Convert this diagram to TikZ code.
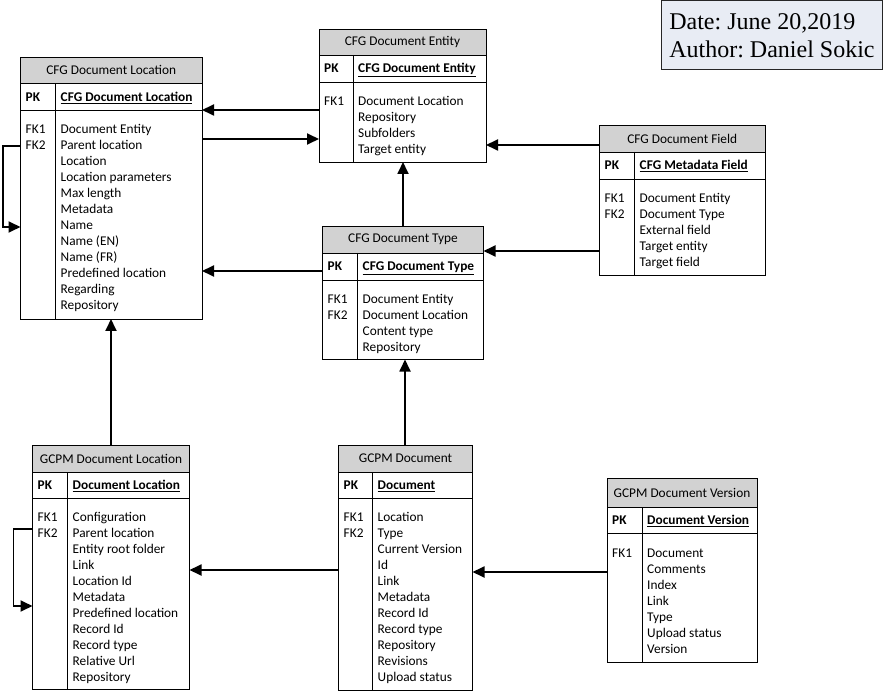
\documentclass[tikz,border=0pt]{standalone}
\usepackage{fontspec}
\setmainfont{Carlito}
\newfontfamily\stampfont{Liberation Serif}
\usetikzlibrary{positioning,arrows.meta}
\definecolor{titlegray}{HTML}{D2D2D2}
\definecolor{stampfill}{HTML}{E8ECF4}

\begin{document}
\begin{tikzpicture}[
    x=1pt, y=-1pt,
    every node/.style={font=\fontsize{13.33}{16}\selectfont},
    etitle/.style={draw, line width=0.9pt, fill=titlegray, anchor=north west,
                   minimum width=#1, minimum height=27pt, inner sep=0pt, outer sep=0pt},
    erow/.style={draw, line width=0.9pt, fill=white, minimum width=#1,
                 minimum height=26.5pt, inner sep=0pt, outer sep=0pt},
    ebody/.style={draw, line width=0.9pt, fill=white, minimum width=#1,
                  inner sep=0pt, outer sep=0pt},
    key/.style={anchor=base west, inner sep=0pt,
                font=\fontsize{13.33}{16}\selectfont\bfseries},
    field/.style={anchor=base west, inner sep=0pt},
    divider/.style={line width=0.9pt},
    conn/.style={-{Triangle[length=12pt, width=11pt]}, line width=1.8pt},
    stamp/.style={draw=black!85, line width=0.9pt, fill=stampfill, anchor=north west,
                  minimum width=221pt, minimum height=68.5pt, align=left, inner xsep=4pt,
                  font=\stampfont\fontsize{24}{28}\selectfont\frenchspacing},
]
\useasboundingbox (0,0) rectangle (883,692);

% Date stamp
\node[stamp] (stamp) at (661,0.5) {Date: June 20,2019\\Author: Daniel Sokic};

% CFG Document Location
\node[etitle=181.5pt, minimum height=26.5pt] (cdl-title) at (20.5,57) {CFG Document Location};
\node[erow=181.5pt, below=0pt of cdl-title] (cdl-pk) {};
\node[ebody=181.5pt, minimum height=209pt, below=0pt of cdl-pk] (cdl-body) {};
\draw[divider] ([xshift=35pt]cdl-pk.north west) -- ([xshift=35pt]cdl-body.south west);
\node[key] (cdl-pkk) at ([xshift=5pt, yshift=-4.5pt]cdl-pk.west) {PK};
\node[key] (cdl-pkn) at ([xshift=40pt, yshift=-4.5pt]cdl-pk.west) {\underline{CFG Document Location}};
\node[field] (cdl-fk1) at ([xshift=5pt, yshift=-23.5pt]cdl-body.north west) {FK1};
\node[field] (cdl-fk2) at ([xshift=5pt, yshift=-39.5pt]cdl-body.north west) {FK2};
\foreach \f [count=\i from 0] in {Document Entity, Parent location, Location, Location parameters,
    Max length, Metadata, Name, Name (EN), Name (FR), Predefined location, Regarding, Repository}
    \node[field] (cdl-f\i) at ([xshift=40pt, yshift=-23.5pt-16pt*\i]cdl-body.north west) {\f};

% CFG Document Entity
\node[etitle=167pt, minimum height=26pt] (cde-title) at (319,29) {CFG Document Entity};
\node[erow=167pt, minimum height=27pt, below=0pt of cde-title] (cde-pk) {};
\node[ebody=167pt, minimum height=80pt, below=0pt of cde-pk] (cde-body) {};
\draw[divider] ([xshift=34pt]cde-pk.north west) -- ([xshift=34pt]cde-body.south west);
\node[key] (cde-pkk) at ([xshift=5pt, yshift=-4.5pt]cde-pk.west) {PK};
\node[key] (cde-pkn) at ([xshift=39pt, yshift=-4.5pt]cde-pk.west) {\underline{CFG Document Entity}};
\node[field] (cde-fk1) at ([xshift=5pt, yshift=-23.5pt]cde-body.north west) {FK1};
\foreach \f [count=\i from 0] in {Document Location, Repository, Subfolders, Target entity}
    \node[field] (cde-f\i) at ([xshift=39pt, yshift=-23.5pt-16pt*\i]cde-body.north west) {\f};

% CFG Document Field
\node[etitle=165.5pt] (cdf-title) at (599.5,125) {CFG Document Field};
\node[erow=165.5pt, minimum height=27pt, below=0pt of cdf-title] (cdf-pk) {};
\node[ebody=165.5pt, minimum height=96pt, below=0pt of cdf-pk] (cdf-body) {};
\draw[divider] ([xshift=35pt]cdf-pk.north west) -- ([xshift=35pt]cdf-body.south west);
\node[key] (cdf-pkk) at ([xshift=5pt, yshift=-4.5pt]cdf-pk.west) {PK};
\node[key] (cdf-pkn) at ([xshift=40pt, yshift=-4.5pt]cdf-pk.west) {\underline{CFG Metadata Field}};
\node[field] (cdf-fk1) at ([xshift=5pt, yshift=-23.5pt]cdf-body.north west) {FK1};
\node[field] (cdf-fk2) at ([xshift=5pt, yshift=-39.5pt]cdf-body.north west) {FK2};
\foreach \f [count=\i from 0] in {Document Entity, Document Type, External field, Target entity, Target field}
    \node[field] (cdf-f\i) at ([xshift=40pt, yshift=-23.5pt-16pt*\i]cdf-body.north west) {\f};

% CFG Document Type
\node[etitle=161pt, minimum height=26.5pt] (cdt-title) at (322.5,226.5) {CFG Document Type};
\node[erow=161pt, minimum height=27pt, below=0pt of cdt-title] (cdt-pk) {};
\node[ebody=161pt, minimum height=79.5pt, below=0pt of cdt-pk] (cdt-body) {};
\draw[divider] ([xshift=35pt]cdt-pk.north west) -- ([xshift=35pt]cdt-body.south west);
\node[key] (cdt-pkk) at ([xshift=5pt, yshift=-4.5pt]cdt-pk.west) {PK};
\node[key] (cdt-pkn) at ([xshift=40pt, yshift=-4.5pt]cdt-pk.west) {\underline{CFG Document Type}};
\node[field] (cdt-fk1) at ([xshift=5pt, yshift=-23.5pt]cdt-body.north west) {FK1};
\node[field] (cdt-fk2) at ([xshift=5pt, yshift=-39.5pt]cdt-body.north west) {FK2};
\foreach \f [count=\i from 0] in {Document Entity, Document Location, Content type, Repository}
    \node[field] (cdt-f\i) at ([xshift=40pt, yshift=-23.5pt-16pt*\i]cdt-body.north west) {\f};

% GCPM Document Location
\node[etitle=157pt] (gdl-title) at (32.5,445) {GCPM Document Location};
\node[erow=157pt, below=0pt of gdl-title] (gdl-pk) {};
\node[ebody=157pt, minimum height=191pt, below=0pt of gdl-pk] (gdl-body) {};
\draw[divider] ([xshift=35pt]gdl-pk.north west) -- ([xshift=35pt]gdl-body.south west);
\node[key] (gdl-pkk) at ([xshift=5pt, yshift=-4.5pt]gdl-pk.west) {PK};
\node[key] (gdl-pkn) at ([xshift=40pt, yshift=-4.5pt]gdl-pk.west) {\underline{Document Location}};
\node[field] (gdl-fk1) at ([xshift=5pt, yshift=-23pt]gdl-body.north west) {FK1};
\node[field] (gdl-fk2) at ([xshift=5pt, yshift=-39pt]gdl-body.north west) {FK2};
\foreach \f [count=\i from 0] in {Configuration, Parent location, Entity root folder, Link, Location Id,
    Metadata, Predefined location, Record Id, Record type, Relative Url, Repository}
    \node[field] (gdl-f\i) at ([xshift=40pt, yshift=-23pt-16pt*\i]gdl-body.north west) {\f};

% GCPM Document
\node[etitle=134pt] (gd-title) at (338.5,445) {GCPM Document};
\node[erow=134pt, below=0pt of gd-title] (gd-pk) {};
\node[ebody=134pt, minimum height=191.5pt, below=0pt of gd-pk] (gd-body) {};
\draw[divider] ([xshift=34pt]gd-pk.north west) -- ([xshift=34pt]gd-body.south west);
\node[key] (gd-pkk) at ([xshift=5pt, yshift=-4.5pt]gd-pk.west) {PK};
\node[key] (gd-pkn) at ([xshift=39pt, yshift=-4.5pt]gd-pk.west) {\underline{Document}};
\node[field] (gd-fk1) at ([xshift=5pt, yshift=-23pt]gd-body.north west) {FK1};
\node[field] (gd-fk2) at ([xshift=5pt, yshift=-39pt]gd-body.north west) {FK2};
\foreach \f [count=\i from 0] in {Location, Type, Current Version, Id, Link, Metadata, Record Id,
    Record type, Repository, Revisions, Upload status}
    \node[field] (gd-f\i) at ([xshift=39pt, yshift=-23pt-16pt*\i]gd-body.north west) {\f};

% GCPM Document Version
\node[etitle=150pt, minimum height=28.5pt] (gdv-title) at (607,478.5) {GCPM Document Version};
\node[erow=150pt, minimum height=26pt, below=0pt of gdv-title] (gdv-pk) {};
\node[ebody=150pt, minimum height=129pt, below=0pt of gdv-pk] (gdv-body) {};
\draw[divider] ([xshift=35pt]gdv-pk.north west) -- ([xshift=35pt]gdv-body.south west);
\node[key] (gdv-pkk) at ([xshift=5pt, yshift=-4.5pt]gdv-pk.west) {PK};
\node[key] (gdv-pkn) at ([xshift=40pt, yshift=-4.5pt]gdv-pk.west) {\underline{Document Version}};
\node[field] (gdv-fk1) at ([xshift=5pt, yshift=-24.5pt]gdv-body.north west) {FK1};
\foreach \f [count=\i from 0] in {Document, Comments, Index, Link, Type, Upload status, Version}
    \node[field] (gdv-f\i) at ([xshift=40pt, yshift=-24.5pt-16pt*\i]gdv-body.north west) {\f};

% Relationships
\draw[conn] (cde-body.west |- cdl-pk.south) -- (cdl-pk.south east);
\draw[conn] (cdl-body.east |- 0,139) -- (cde-body.west |- 0,139);
\draw[conn] (cdf-title.west |- 0,145) -- (cde-body.east |- 0,145);
\draw[conn] (cdf-body.west |- 0,251) -- (cdt-title.east |- 0,251);
\draw[conn] (cdt-pk.west |- 0,271) -- (cdl-body.east |- 0,271);
\draw[conn] (cdt-title.north) -- (cdt-title.north |- cde-body.south);
\draw[conn] (gdl-title.north) -- (gdl-title.north |- cdl-body.south);
\draw[conn] ([xshift=-0.5pt]gd-title.north) -- ([xshift=-0.5pt]gd-title.north |- cdt-body.south);
\draw[conn] (gd-body.west |- 0,570) -- (gdl-body.east |- 0,570);
\draw[conn] (gdv-body.west |- 0,572) -- (gd-body.east |- 0,572);

% Self references
\draw[conn] (cdl-body.west |- 0,146) -- ++(-17.5,0) |- (cdl-body.west |- 0,227);
\draw[conn] (gdl-body.west |- 0,529) -- ++(-19,0) |- (gdl-body.west |- 0,606);

\end{tikzpicture}
\end{document}
